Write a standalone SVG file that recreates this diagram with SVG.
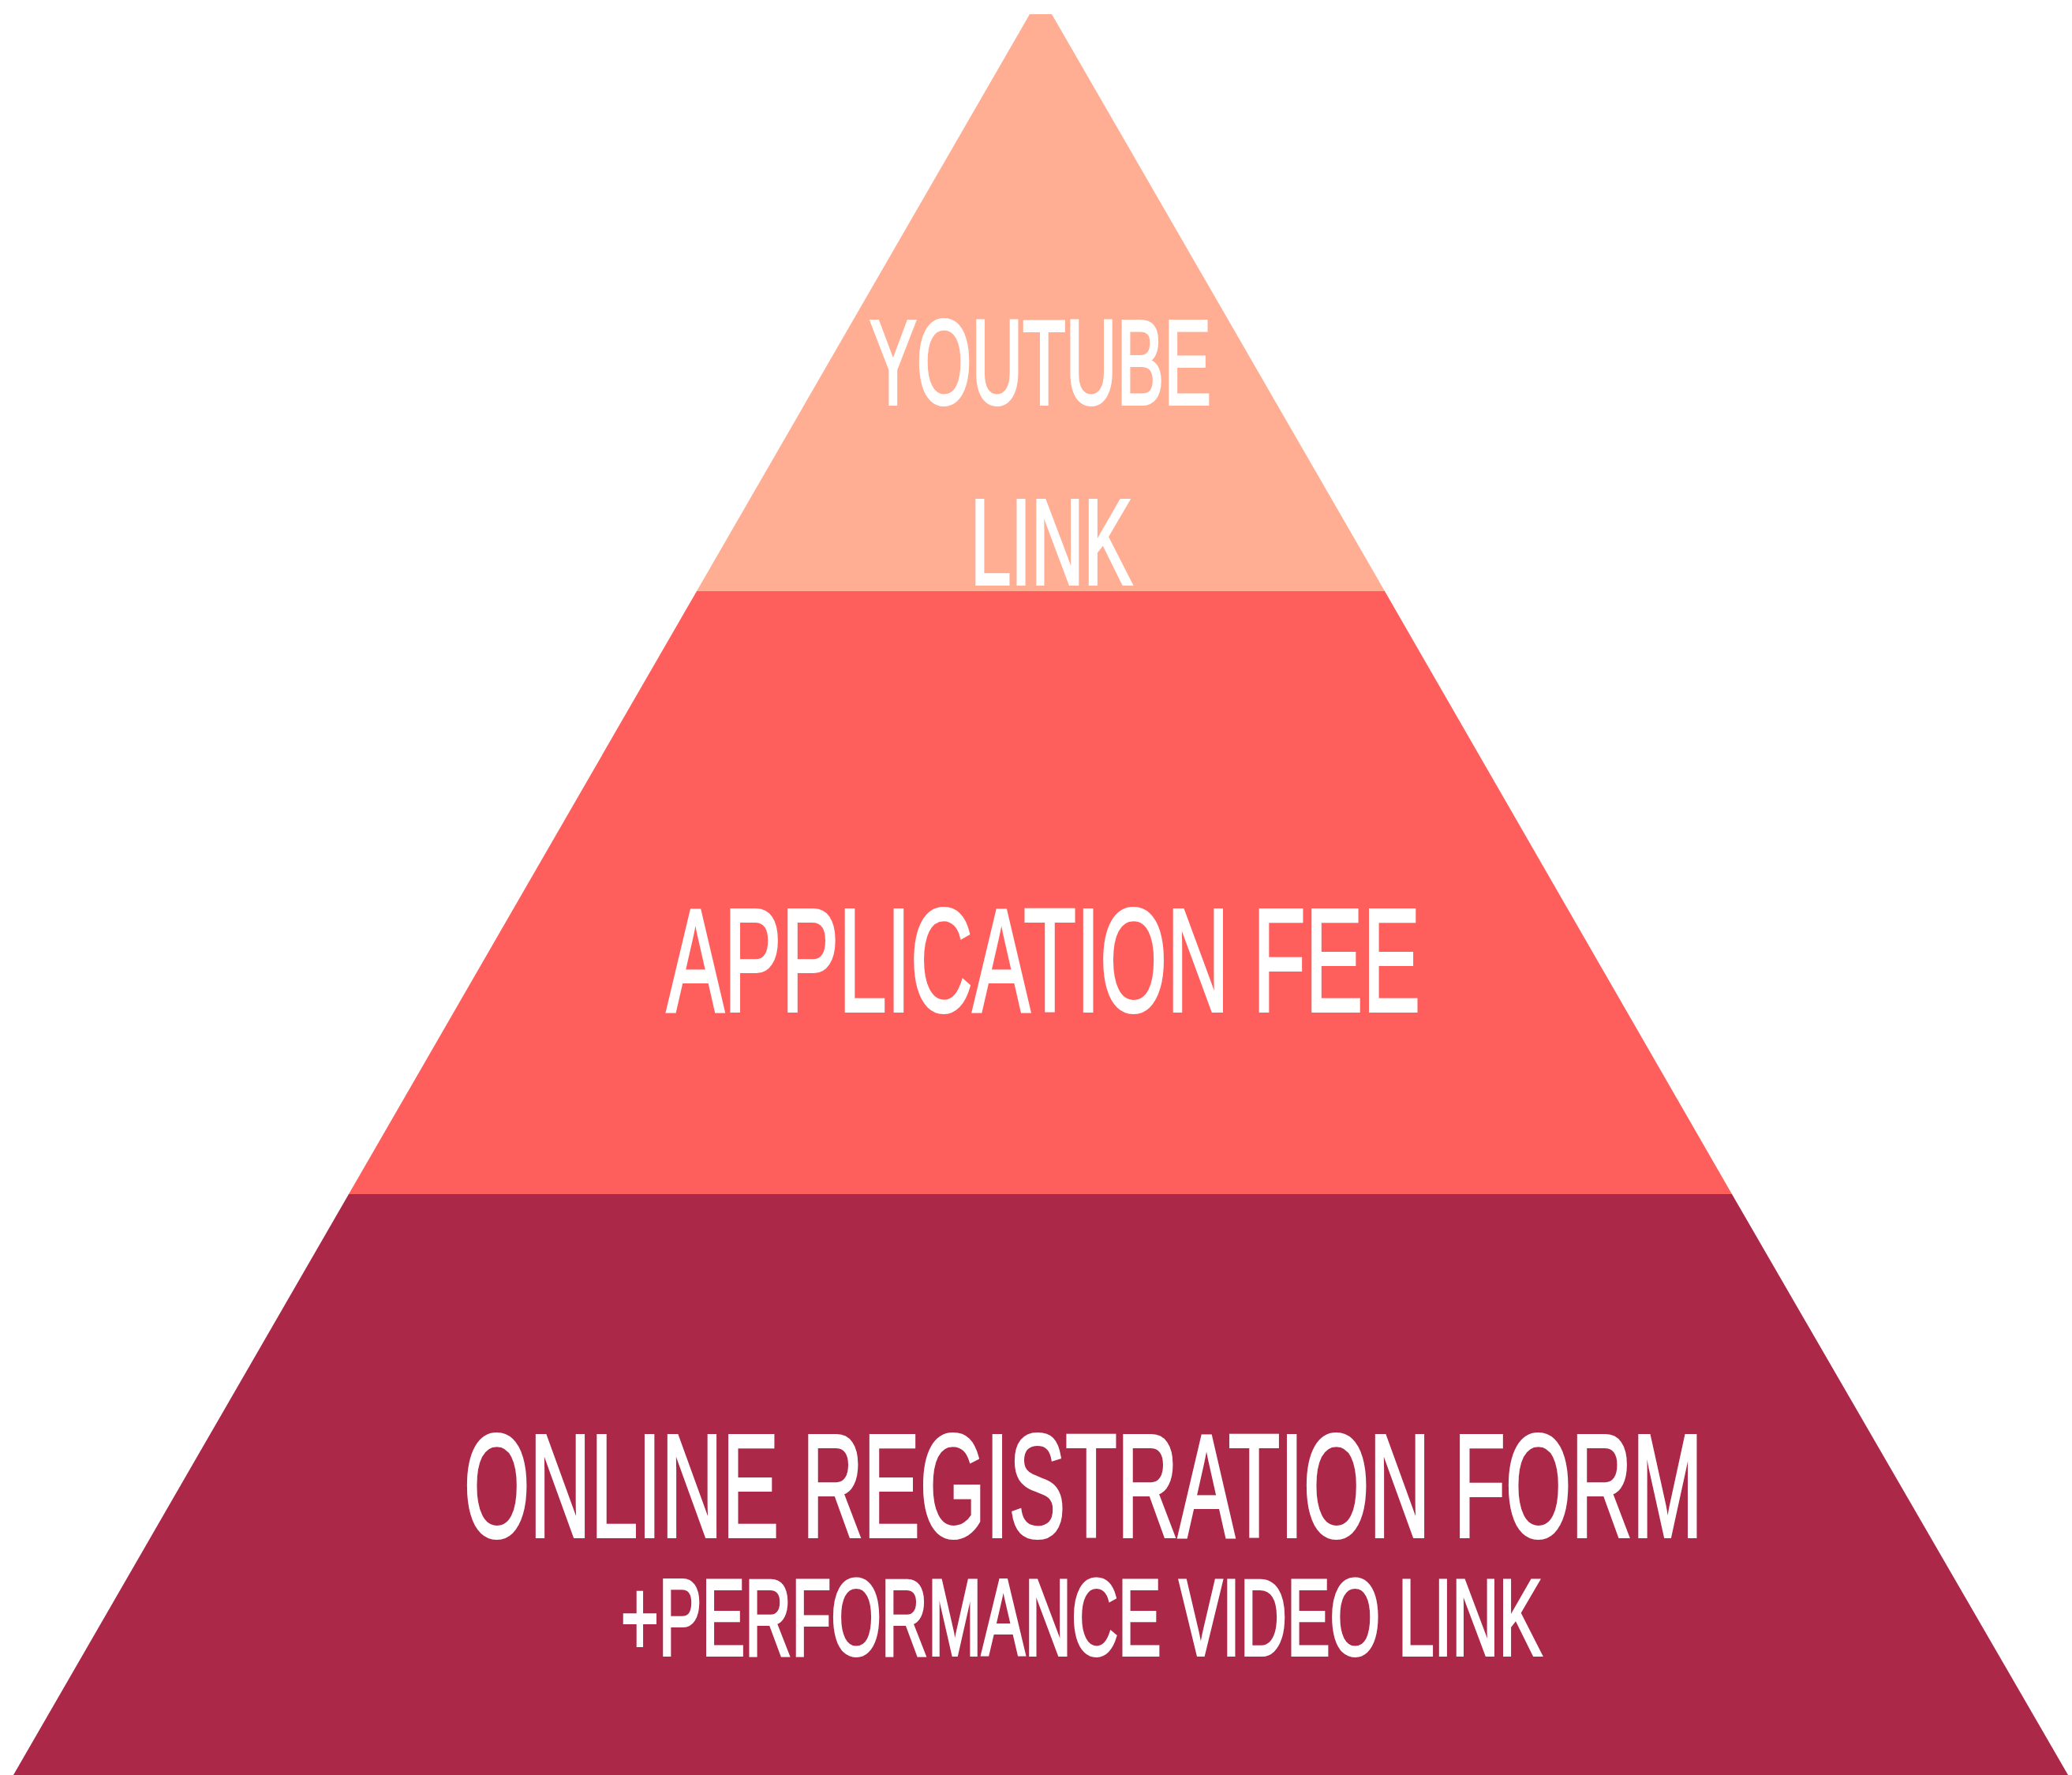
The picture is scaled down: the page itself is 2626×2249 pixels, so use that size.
<svg xmlns="http://www.w3.org/2000/svg" width="2626" height="2249" viewBox="0 0 2626 2249">
<style>
.lbl{font-family:"Liberation Sans","Arial",sans-serif;fill:#ffffff;stroke:#ffffff;stroke-width:4;stroke-linejoin:miter;}
</style>
<rect x="0" y="0" width="2626" height="2249" fill="#ffffff"/>
<g id="tier-top">
<polygon points="1305,18 1333,18 1755,749 883,749" fill="#FFAE93"/>
<text class="lbl" x="1102" y="512" font-size="153" textLength="433" lengthAdjust="spacingAndGlyphs">YOUTUBE</text>
<text class="lbl" x="1230" y="740" font-size="154" textLength="205" lengthAdjust="spacingAndGlyphs">LINK</text>
</g>
<g id="tier-middle">
<polygon points="883,749 1755,749 2195,1513 442,1513" fill="#FF5F5C"/>
<text class="lbl" x="845" y="1281" font-size="185" textLength="955" lengthAdjust="spacingAndGlyphs">APPLICATION FEE</text>
</g>
<g id="tier-bottom">
<polygon points="442,1513 2195,1513 2621,2249 17,2249" fill="#AC2848"/>
<text class="lbl" x="588" y="1947" font-size="185" textLength="1570" lengthAdjust="spacingAndGlyphs">ONLINE REGISTRATION FORM</text>
<text class="lbl" x="787" y="2097" font-size="138" textLength="1167" lengthAdjust="spacingAndGlyphs">+PERFORMANCE VIDEO LINK</text>
</g>
<g id="connectors"></g>
</svg>
